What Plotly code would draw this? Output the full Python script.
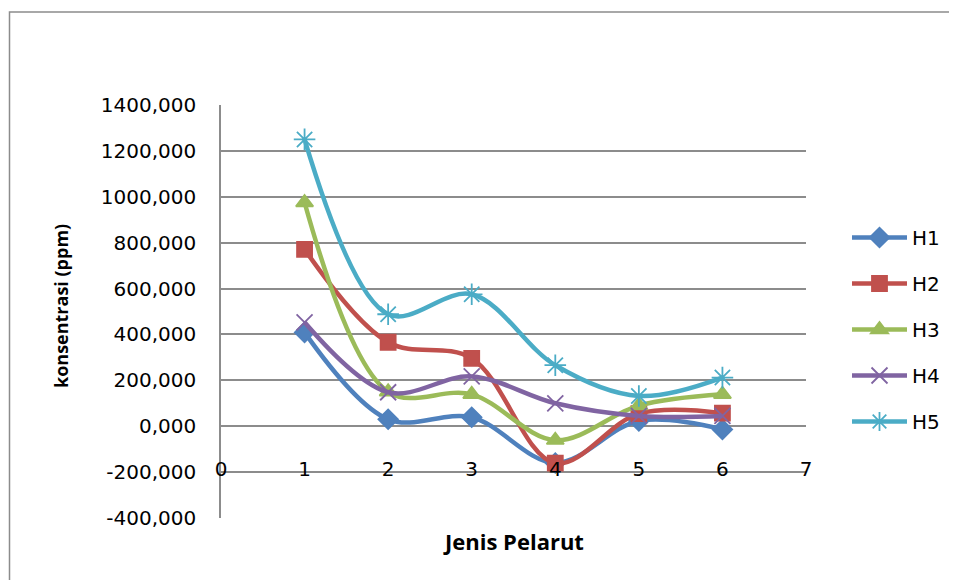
import plotly.graph_objects as go

x_vals = [1, 2, 3, 4, 5, 6]
series_names = ["H1", "H2", "H3", "H4", "H5"]
h1 = [409, 30, 39, -160, 23, -14]
h2 = [771, 366, 296, -161, 55, 57]
h3 = [975, 150, 139, -61, 90, 139]
h4 = [453, 148, 217, 100, 45, 45]
h5 = [1250, 488, 575, 266, 132, 212]
series_values = [h1, h2, h3, h4, h5]

y_tickvals = [-400, -200, 0, 200, 400, 600, 800, 1000, 1200, 1400]
y_ticktext = ["-400,000", "-200,000", "0,000", "200,000", "400,000", "600,000",
              "800,000", "1000,000", "1200,000", "1400,000"]
x_tickvals = [0, 1, 2, 3, 4, 5, 6, 7]

colors = ["#4F81BD", "#C0504D", "#9BBB59", "#8064A2", "#4BACC6"]
symbols = ["diamond", "square", "triangle-up", "x-thin-open", "asterisk-open"]
msizes = [15, 15, 15, 16, 18]

TICKFONT = "DejaVu Sans"
TITLEFONT = "Open Sans"
GRID = "#8c8c8c"

fig = go.Figure()
for i, name in enumerate(series_names):
    fig.add_trace(go.Scatter(
        x=x_vals, y=series_values[i], name=name, mode="lines+markers",
        line=dict(color=colors[i], width=4.5, shape="spline", smoothing=1.0),
        marker=dict(symbol=symbols[i], size=msizes[i], color=colors[i],
                    line=dict(color=colors[i], width=1.8)),
        legendgroup=name,
    ))

# page body has an 8px margin; window coordinates are used below
OFF = 8
L, R, T, B = 221, 806, 105, 518
W, H = 957 - OFF, 580 - OFF
pw, ph = R - L, B - T

def px_x(p):
    return (p - L) / pw

def px_y(p):
    return (B - p) / ph

fig.update_layout(
    width=W, height=H,
    margin=dict(l=L - OFF, r=W - (R - OFF), t=T - OFF, b=H - (B - OFF), pad=0),
    plot_bgcolor="white", paper_bgcolor="white",
    font=dict(family=TICKFONT, size=20, color="#000000"),
    showlegend=True,
    legend=dict(x=px_x(847), y=px_y(218), xanchor="left", yanchor="top",
                font=dict(family=TICKFONT, size=20), tracegroupgap=17,
                itemwidth=55, bgcolor="rgba(0,0,0,0)"),
    xaxis=dict(range=[0, 7], tickvals=x_tickvals, showgrid=False, zeroline=False,
               showline=False, ticks="", anchor="free", position=px_y(455),
               tickfont=dict(family=TICKFONT, size=20)),
    yaxis=dict(range=[-400, 1400], tickvals=y_tickvals, ticktext=y_ticktext,
               showgrid=True, gridcolor=GRID, gridwidth=1.5, zeroline=False,
               showline=True, linecolor=GRID, linewidth=1.5, ticks="",
               ticklabelstandoff=19,
               tickfont=dict(family=TICKFONT, size=20)),
    annotations=[
        dict(text="<b>konsentrasi (ppm)</b>", xref="paper", yref="paper",
             x=px_x(61), y=px_y(306), textangle=-90, showarrow=False,
             font=dict(family=TITLEFONT, size=18), xanchor="center", yanchor="middle"),
        dict(text="<b>Jenis Pelarut</b>", xref="paper", yref="paper",
             x=px_x(513), y=px_y(541), showarrow=False,
             font=dict(family=TITLEFONT, size=22), xanchor="center", yanchor="middle"),
    ],
    shapes=[
        dict(type="rect", xref="paper", yref="paper",
             x0=px_x(9.5), x1=px_x(975), y0=px_y(600), y1=px_y(12),
             line=dict(color=GRID, width=1.5), fillcolor="rgba(0,0,0,0)",
             layer="below"),
    ],
)

fig.write_html("out.html")
